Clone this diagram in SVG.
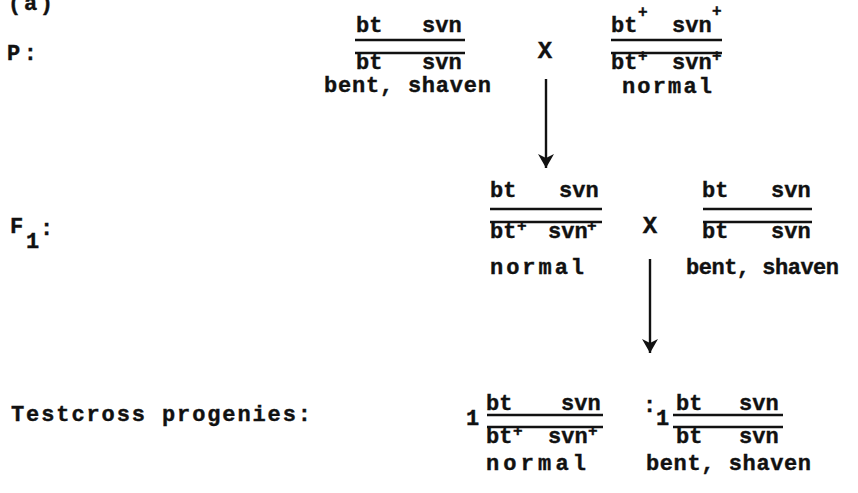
<svg xmlns="http://www.w3.org/2000/svg" width="858" height="493" viewBox="0 0 858 493">
  <style>
    text { font-family: "Liberation Mono", "DejaVu Sans Mono", monospace; font-weight: bold; fill: #111; stroke: #111; stroke-width: 0.4; font-size: 22px; }
    .sup { font-size: 16px; }
    .cross { font-size: 24px; }
    .bar { stroke: #111; stroke-width: 2.6; fill: none; }
    .conn { stroke: #111; stroke-width: 2.4; fill: none; }
  </style>
  <defs>
    <!-- solid arrowhead drawn pointing along +x, rotated to the line direction -->
    <marker id="arrowHead" viewBox="0 0 16 16" refX="15" refY="8" markerWidth="16" markerHeight="16" markerUnits="userSpaceOnUse" orient="auto">
      <path d="M1,0 L15,8 L1,16 L5,8 Z" fill="#111"/>
    </marker>
  </defs>
  <rect width="858" height="493" fill="#ffffff"/>

  <!-- row labels -->
  <g id="label-a"><text x="8" y="10" textLength="45">(a)</text></g>
  <g id="label-p"><text x="7" y="60" textLength="30">P:</text></g>
  <g id="label-f1">
    <text x="10" y="233" font-size="20">F</text>
    <text x="26" y="248" font-size="20">1</text>
    <text x="40" y="235" font-size="20">:</text>
  </g>
  <g id="label-testcross"><text x="11" y="421" textLength="300">Testcross progenies:</text></g>

  <!-- P generation: bt svn / bt svn -->
  <g id="p-recessive">
    <text x="356" y="32">bt</text><text x="422" y="32">svn</text>
    <line class="bar" x1="355" y1="40" x2="465" y2="40"/>
    <line class="bar" x1="355" y1="53" x2="465" y2="53"/>
    <text x="356" y="69">bt</text><text x="422" y="69">svn</text>
    <text x="324" y="92" textLength="167">bent, shaven</text>
  </g>
  <g id="p-cross"><text class="cross" x="545" y="58" text-anchor="middle">X</text></g>
  <!-- P generation: wild type -->
  <g id="p-wildtype">
    <text x="611" y="32">bt</text><text class="sup" x="638" y="17">+</text>
    <text x="672" y="32">svn</text><text class="sup" x="712" y="16">+</text>
    <line class="bar" x1="611" y1="40" x2="722" y2="40"/>
    <line class="bar" x1="611" y1="53" x2="722" y2="53"/>
    <text x="611" y="69">bt</text><text class="sup" x="638" y="61">+</text>
    <text x="672" y="69">svn</text><text class="sup" x="712" y="61">+</text>
    <text x="622" y="93" textLength="90">normal</text>
  </g>

  <!-- F1 heterozygote -->
  <g id="f1-heterozygote">
    <text x="490" y="197">bt</text><text x="559" y="197">svn</text>
    <line class="bar" x1="490" y1="209" x2="602" y2="209"/>
    <line class="bar" x1="490" y1="222" x2="602" y2="222"/>
    <text x="490" y="238">bt</text><text class="sup" x="517" y="231">+</text>
    <text x="548" y="238">svn</text><text class="sup" x="587" y="231">+</text>
    <text x="490" y="274" textLength="94">normal</text>
  </g>
  <g id="f1-cross"><text class="cross" x="650" y="233" text-anchor="middle">X</text></g>
  <!-- tester -->
  <g id="f1-tester">
    <text x="702" y="197">bt</text><text x="771" y="197">svn</text>
    <line class="bar" x1="703" y1="209" x2="812" y2="209"/>
    <line class="bar" x1="703" y1="222" x2="812" y2="222"/>
    <text x="702" y="238">bt</text><text x="771" y="238">svn</text>
    <text x="686" y="274" textLength="153">bent, shaven</text>
  </g>

  <!-- testcross progeny classes -->
  <g id="progeny-normal">
    <text x="466" y="425">1</text>
    <text x="486" y="410">bt</text><text x="561" y="410">svn</text>
    <line class="bar" x1="487" y1="415" x2="603" y2="415"/>
    <line class="bar" x1="487" y1="427" x2="603" y2="427"/>
    <text x="486" y="443">bt</text><text class="sup" x="513" y="436">+</text>
    <text x="548" y="443">svn</text><text class="sup" x="588" y="436">+</text>
    <text x="486" y="470" textLength="100">normal</text>
  </g>
  <g id="progeny-ratio"><text x="643" y="412">:</text></g>
  <g id="progeny-bent-shaven">
    <text x="656" y="425">1</text>
    <text x="676" y="410">bt</text><text x="739" y="410">svn</text>
    <line class="bar" x1="673" y1="415" x2="783" y2="415"/>
    <line class="bar" x1="673" y1="427" x2="783" y2="427"/>
    <text x="676" y="443">bt</text><text x="739" y="443">svn</text>
    <text x="646" y="470" textLength="165">bent, shaven</text>
  </g>

  <!-- generation arrows -->
  <g id="connectors">
    <line class="conn" x1="546" y1="79" x2="546" y2="168" marker-end="url(#arrowHead)"/>
    <line class="conn" x1="650" y1="259" x2="650" y2="353" marker-end="url(#arrowHead)"/>
  </g>
</svg>
